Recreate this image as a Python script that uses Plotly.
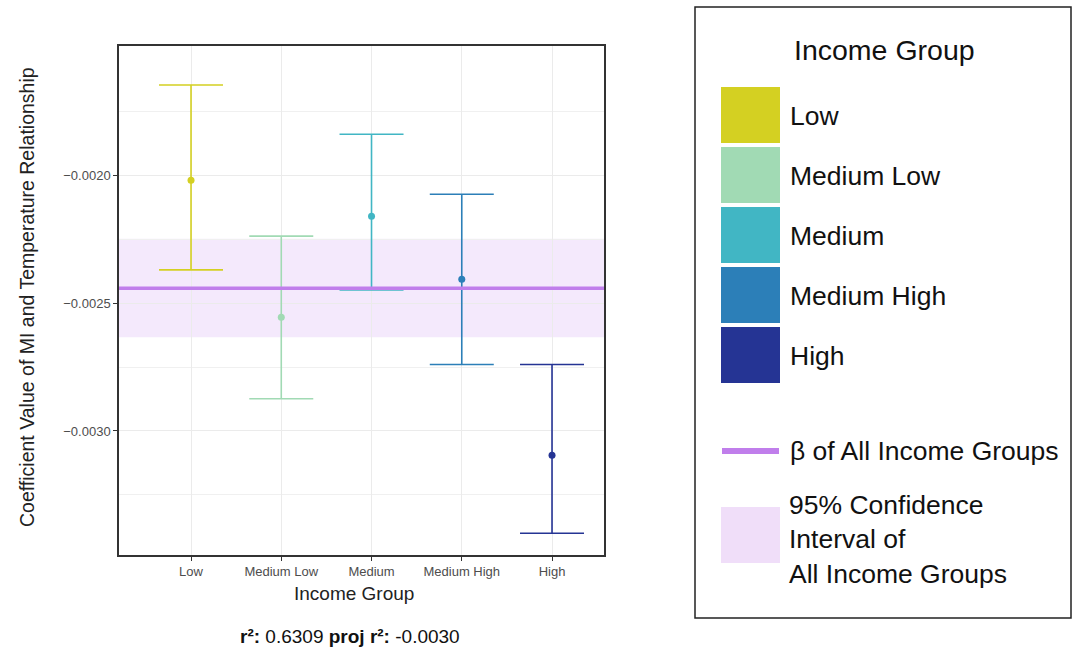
import plotly.graph_objects as go

# ---------------- data ----------------
groups = ["Low", "Medium Low", "Medium", "Medium High", "High"]
estimates = [-0.002018, -0.002555, -0.002159, -0.002406, -0.003095]
upper = [-0.001645, -0.002237, -0.001838, -0.002073, -0.002740]
lower = [-0.002369, -0.002874, -0.002448, -0.002740, -0.003401]
colors = ["#D4D022", "#A1DAB4", "#41B6C4", "#2C7FB8", "#253494"]

beta_all = -0.002441
ci_all = [-0.002633, -0.002247]

y_ticks = [-0.0030, -0.0025, -0.0020]
y_minor = [-0.00325, -0.00275, -0.00225, -0.00175]
y_range = [-0.003486, -0.001492]

y_title = "Coefficient Value of MI and Temperature Relationship"
x_title = "Income Group"
r2_text = "<b>r²:</b> 0.6309 <b>proj r²:</b> -0.0030"

legend_items = ["Low", "Medium Low", "Medium", "Medium High", "High"]
beta_label = "β of All Income Groups"
ci_label = "95% Confidence<br>Interval of<br>All Income Groups"

# ---------------- layout helpers (pixel -> paper) ----------------
W, H = 1074, 647
L, R, T, B = 119, 604, 46, 555


def xp(px):
    return (px - L) / (R - L)


def yp(py):
    return (B - py) / (B - T)


FONT = "Liberation Sans, Arial, Helvetica, sans-serif"
LEG_SIZE = 26.5

fig = go.Figure()

for g, e, u, lo, c in zip(groups, estimates, upper, lower, colors):
    fig.add_trace(go.Scatter(
        x=[g], y=[e], mode="markers",
        marker=dict(color=c, size=7),
        error_y=dict(type="data", symmetric=False,
                     array=[u - e], arrayminus=[e - lo],
                     color=c, thickness=1.6, width=32),
        showlegend=False, hoverinfo="skip",
    ))

shapes = []
# CI band
shapes.append(dict(type="rect", xref="paper", yref="y", x0=0, x1=1,
                   y0=ci_all[0], y1=ci_all[1],
                   fillcolor="#F4E9FC", line=dict(width=0), layer="below"))
# beta line
shapes.append(dict(type="line", xref="paper", yref="y", x0=0, x1=1,
                   y0=beta_all, y1=beta_all,
                   line=dict(color="#C07EEB", width=3.5), layer="above"))

# legend box
shapes.append(dict(type="rect", xref="paper", yref="paper",
                   x0=xp(695), x1=xp(1071), y0=yp(618), y1=yp(7),
                   line=dict(color="#222222", width=1.5), fillcolor="rgba(0,0,0,0)"))

annotations = []
annotations.append(dict(xref="paper", yref="paper", x=xp(884), y=yp(50),
                        text="Income Group", showarrow=False,
                        xanchor="center", yanchor="middle",
                        font=dict(family=FONT, size=28.5, color="#111111")))

sw_x0, sw_x1 = 721, 780
sw_tops = [87, 147, 207, 267, 327]
for name, c, top in zip(legend_items, colors, sw_tops):
    shapes.append(dict(type="rect", xref="paper", yref="paper",
                       x0=xp(sw_x0), x1=xp(sw_x1), y0=yp(top + 56), y1=yp(top),
                       fillcolor=c, line=dict(width=0)))
    annotations.append(dict(xref="paper", yref="paper", x=xp(788), y=yp(top + 29),
                            text=name, showarrow=False, xanchor="left", yanchor="middle",
                            font=dict(family=FONT, size=LEG_SIZE, color="#111111")))

# beta legend
shapes.append(dict(type="line", xref="paper", yref="paper",
                   x0=xp(722), x1=xp(779), y0=yp(451), y1=yp(451),
                   line=dict(color="#C07EEB", width=6)))
annotations.append(dict(xref="paper", yref="paper", x=xp(788), y=yp(451),
                        text=beta_label, showarrow=False, xanchor="left", yanchor="middle",
                        font=dict(family=FONT, size=LEG_SIZE, color="#111111")))
# CI legend
shapes.append(dict(type="rect", xref="paper", yref="paper",
                   x0=xp(721), x1=xp(780), y0=yp(563), y1=yp(507),
                   fillcolor="#F0DEF9", line=dict(width=0)))
annotations.append(dict(xref="paper", yref="paper", x=xp(787), y=yp(539),
                        text=ci_label, showarrow=False, xanchor="left", yanchor="middle",
                        align="left",
                        font=dict(family=FONT, size=LEG_SIZE, color="#111111")))

# axis titles as annotations
annotations.append(dict(xref="paper", yref="paper", x=xp(27), y=yp(297),
                        text=y_title, showarrow=False, textangle=-90,
                        xanchor="center", yanchor="middle",
                        font=dict(family=FONT, size=19.5, color="#222222")))
annotations.append(dict(xref="paper", yref="paper", x=xp(354), y=yp(593),
                        text=x_title, showarrow=False,
                        xanchor="center", yanchor="middle",
                        font=dict(family=FONT, size=19, color="#222222")))

# r2 text
annotations.append(dict(xref="paper", yref="paper", x=xp(350), y=yp(636),
                        text=r2_text, showarrow=False, xanchor="center", yanchor="middle",
                        font=dict(family=FONT, size=19, color="#111111")))

fig.update_layout(
    width=W, height=H,
    margin=dict(l=L, r=W - R, t=T, b=H - B, autoexpand=False),
    paper_bgcolor="white", plot_bgcolor="white",
    font=dict(family=FONT),
    shapes=shapes, annotations=annotations,
)

fig.update_xaxes(
    type="category", categoryorder="array", categoryarray=groups,
    range=[-0.798, 4.576],
    showgrid=True, gridcolor="#EBEBEB", gridwidth=1,
    showline=True, mirror=True, linecolor="#333333", linewidth=1.5,
    ticks="outside", ticklen=4, tickcolor="#333333", tickwidth=1,
    tickfont=dict(family=FONT, size=13, color="#4D4D4D"),
    zeroline=False,
)
fig.update_yaxes(
    range=y_range, tickvals=y_ticks, tickformat=".4f",
    showgrid=True, gridcolor="#EBEBEB", gridwidth=1,
    minor=dict(tickvals=y_minor, showgrid=True, gridcolor="#F0F0F0", gridwidth=0.8, ticklen=0),
    showline=True, mirror=True, linecolor="#333333", linewidth=1.5,
    ticks="outside", ticklen=4, tickcolor="#333333", tickwidth=1,
    tickfont=dict(family=FONT, size=13, color="#4D4D4D"),
    zeroline=False,
)

fig.write_html("out.html")
